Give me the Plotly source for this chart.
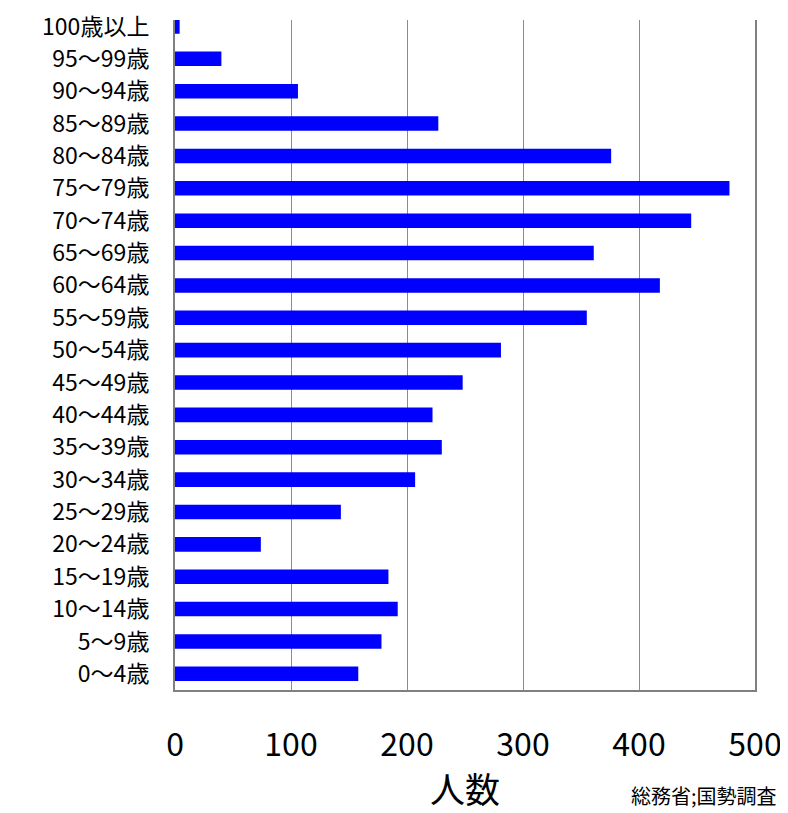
import plotly.graph_objects as go

categories = ["0〜4歳", "5〜9歳", "10〜14歳", "15〜19歳", "20〜24歳", "25〜29歳",
              "30〜34歳", "35〜39歳", "40〜44歳", "45〜49歳", "50〜54歳", "55〜59歳",
              "60〜64歳", "65〜69歳", "70〜74歳", "75〜79歳", "80〜84歳", "85〜89歳",
              "90〜94歳", "95〜99歳", "100歳以上"]
values = [158, 178, 192, 184, 74, 143, 207, 230, 222, 248, 281, 355,
          418, 361, 445, 478, 376, 227, 106, 40, 4]
x_ticks = [0, 100, 200, 300, 400, 500]

FONT = "Noto Sans CJK JP"

fig = go.Figure(go.Bar(
    x=values, y=categories, orientation="h",
    marker=dict(color="#0000FF", line=dict(width=0)),
    cliponaxis=False,
))

fig.update_layout(
    width=780, height=805,
    margin=dict(l=167, r=33, t=0, b=123),
    plot_bgcolor="white", paper_bgcolor="white",
    bargap=0.55, showlegend=False,
    font=dict(family=FONT, color="black"),
    xaxis=dict(
        range=[0, 500], tickvals=x_ticks, showgrid=True, gridcolor="#8c8c8c",
        gridwidth=1, zeroline=False, showline=True, linecolor="#808080", linewidth=2,
        ticks="outside", ticklen=26, tickcolor="rgba(0,0,0,0)",
        tickfont=dict(size=32, family=FONT),
        title=dict(text="人数", font=dict(size=35, family=FONT), standoff=16),
    ),
    yaxis=dict(
        range=[-0.5, 20.2], showgrid=False, zeroline=False,
        showline=True, mirror=True, linecolor="#808080", linewidth=2,
        ticks="", ticklabelstandoff=19,
        tickfont=dict(size=23, family=FONT),
    ),
    annotations=[dict(
        text="総務省;国勢調査", xref="paper", yref="paper", x=1.0, y=0,
        xanchor="right", yanchor="middle", xshift=24, yshift=-105,
        showarrow=False, font=dict(size=20, family=FONT, color="black"),
    )],
)

fig.write_html("out.html")
